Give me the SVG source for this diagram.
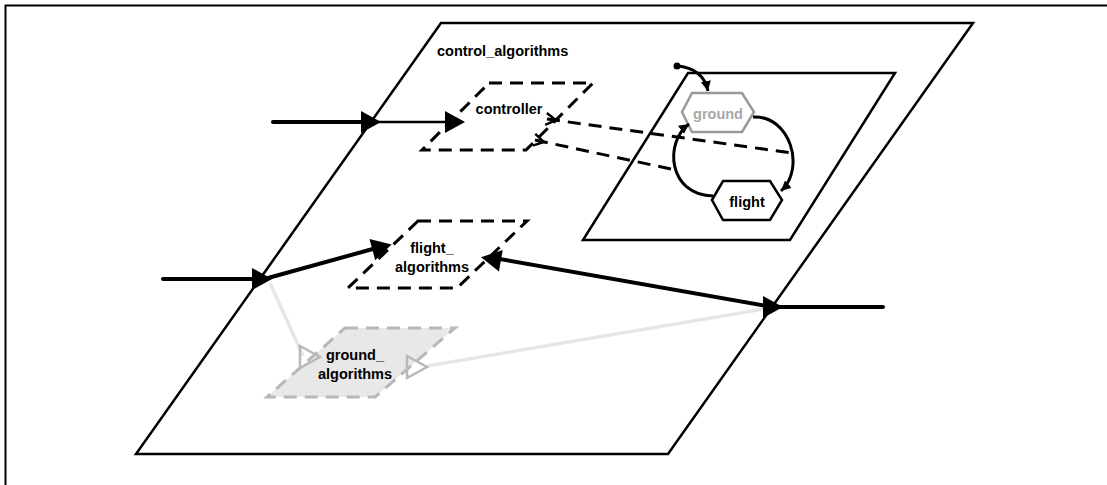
<svg xmlns="http://www.w3.org/2000/svg" xmlns:xlink="http://www.w3.org/1999/xlink" width="1107" height="485" viewBox="0 0 1107 485">
<style>
text{font-family:"Liberation Sans",Arial,sans-serif;font-weight:bold;font-size:14.5px;fill:#000}
.frame{fill:none;stroke:#000;stroke-width:2}
.box{fill:#fff;stroke:#000;stroke-width:2.5;stroke-linejoin:miter}
.actor{fill:none;stroke:#000;stroke-width:3;stroke-dasharray:13 8}
.ghost{fill:#e8e8e8;stroke:#b8b8b8;stroke-width:3;stroke-dasharray:13 8}
.wire{fill:none;stroke:#000;stroke-width:4;stroke-linecap:round}
.wire2{fill:none;stroke:#000;stroke-width:2.5}
.gwire{fill:none;stroke:#e6e6e6;stroke-width:3.5}
.port{fill:#000}
.gport{fill:none;stroke:#b8b8b8;stroke-width:2.5}
.trans{fill:none;stroke:#000;stroke-width:3}
.dash{fill:none;stroke:#000;stroke-width:3;stroke-dasharray:13 8}
.state{fill:#fff;stroke:#000;stroke-width:2.5}
.gstate{fill:#fff;stroke:#999;stroke-width:2.5}
</style>
<defs>
<path id="tri" d="M-10,-11 L10,0 L-10,11 Z"/>
<marker id="ah" markerUnits="userSpaceOnUse" markerWidth="12" markerHeight="12" refX="10" refY="5" orient="auto">
<path d="M0,0 L10,5 L0,10 Z" fill="#000"/>
</marker>
<marker id="tail" markerUnits="userSpaceOnUse" markerWidth="16" markerHeight="16" refX="3" refY="8" orient="auto">
<path d="M2,2 L12,8 L2,14" fill="none" stroke="#000" stroke-width="2.5"/>
</marker>
</defs>
<rect class="frame" x="5.5" y="5.5" width="1120" height="500"/>
<g id="control_algorithms">
<polygon class="box" points="441,23 973,23 668,454 136,454"/>
<text x="437" y="56">control_algorithms</text>
</g>
<g id="modal">
<polygon class="box" points="688,73 895,73 790,240 583,240"/>
</g>
<g id="controller">
<polygon class="actor" points="489,83 593,83 526,150 422,150"/>
<text x="509" y="114" text-anchor="middle">controller</text>
</g>
<g id="flight_algorithms">
<polygon class="actor" points="418,221 527,221 457,288 348,288"/>
<text x="432" y="253" text-anchor="middle">flight_</text>
<text x="432" y="272" text-anchor="middle">algorithms</text>
</g>
<g id="ground_algorithms">
<polygon class="ghost" points="345,328 455,328 375,397 267,397"/>
<text x="355" y="360" text-anchor="middle">ground_</text>
<text x="355" y="379" text-anchor="middle">algorithms</text>
</g>
<g id="ground">
<polygon class="gstate" points="682,112 692,93 742,93 754,112 742,132 692,132"/>
<text x="718" y="119" text-anchor="middle" style="fill:#a8a8a8">ground</text>
</g>
<g id="flight">
<polygon class="state" points="712,200 723,181 770,181 782,200 770,220 723,220"/>
<text x="747" y="207" text-anchor="middle">flight</text>
</g>
<g id="connectors">
<line class="wire" x1="273" y1="122" x2="362" y2="122"/>
<line class="wire2" x1="371" y1="122" x2="448" y2="122"/>
<line class="wire" x1="163" y1="279" x2="255" y2="279"/>
<line class="gwire" x1="270" y1="283" x2="303" y2="356"/>
<line class="gwire" x1="427" y1="366" x2="770" y2="308"/>
<line class="wire" x1="268" y1="278" x2="380" y2="247"/>
<line class="wire" x1="494" y1="258" x2="772" y2="307"/>
<line class="wire" x1="772" y1="307" x2="883" y2="307"/>
<use xlink:href="#tri" class="port" transform="translate(371,122)"/>
<use xlink:href="#tri" class="port" transform="translate(455,122)"/>
<use xlink:href="#tri" class="port" transform="translate(262,279)"/>
<use xlink:href="#tri" class="port" transform="translate(382,247) rotate(-15)"/>
<use xlink:href="#tri" class="port" transform="translate(491,259) rotate(190)"/>
<use xlink:href="#tri" class="port" transform="translate(773,307)"/>
<use xlink:href="#tri" class="gport" transform="translate(310,357)"/>
<use xlink:href="#tri" class="gport" transform="translate(417,367)"/>
<circle cx="677" cy="66" r="3.5" fill="#000"/>
<path class="trans" d="M677,66 Q703,68 708,91" marker-end="url(#ah)"/>
<path class="trans" d="M753,117 C790,115 806,168 781,191" marker-end="url(#ah)"/>
<path class="trans" d="M713,196 C668,195 664,142 689,124" marker-end="url(#ah)"/>
<line class="dash" x1="547" y1="119" x2="792" y2="153" marker-start="url(#tail)"/>
<line class="dash" x1="535" y1="140" x2="671" y2="169" marker-start="url(#tail)"/>
</g>
</svg>
